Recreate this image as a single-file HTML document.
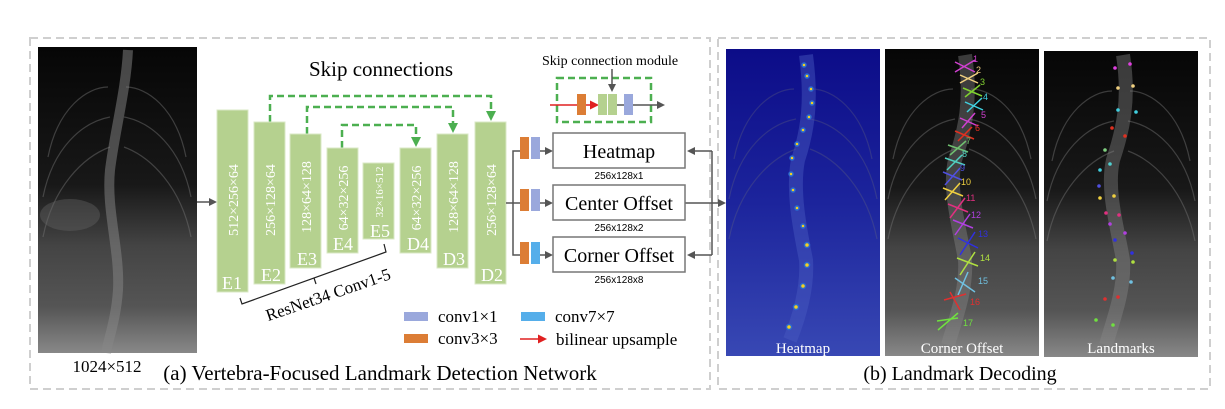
<!DOCTYPE html>
<html><head><meta charset="utf-8"><style>
html,body{margin:0;padding:0;background:#fff;}
svg{display:block;font-family:"Liberation Serif",serif;}
</style></head><body>
<svg width="1225" height="409" viewBox="0 0 1225 409" xmlns="http://www.w3.org/2000/svg">
<defs>
<marker id="ag" markerWidth="8" markerHeight="8" refX="6" refY="4" orient="auto" markerUnits="userSpaceOnUse"><path d="M0,0 L8,4 L0,8 z" fill="#555"/></marker>
<marker id="agr" markerWidth="10" markerHeight="10" refX="7" refY="5" orient="auto" markerUnits="userSpaceOnUse"><path d="M0,0 L10,5 L0,10 z" fill="#4caf50"/></marker>
<marker id="ar" markerWidth="9" markerHeight="9" refX="6" refY="4.5" orient="auto" markerUnits="userSpaceOnUse"><path d="M0,0 L9,4.5 L0,9 z" fill="#e02020"/></marker>
<linearGradient id="xr" x1="0" y1="0" x2="0" y2="1">
<stop offset="0" stop-color="#060606"/><stop offset="0.45" stop-color="#181818"/><stop offset="0.65" stop-color="#444"/><stop offset="0.85" stop-color="#555"/><stop offset="1" stop-color="#888"/></linearGradient>
<linearGradient id="hm" x1="0" y1="0" x2="0" y2="1">
<stop offset="0" stop-color="#0c0c88"/><stop offset="0.5" stop-color="#1c249c"/><stop offset="1" stop-color="#3848b4"/></linearGradient>
<g id="ribs" fill="none" stroke="#777" stroke-width="1.2" opacity="0.45">
<path d="M10,110 C20,60 50,40 70,40"/><path d="M148,110 C138,60 108,40 88,40"/>
<path d="M5,150 C15,100 45,75 72,70"/><path d="M153,150 C143,100 113,75 86,70"/>
<path d="M5,190 C15,140 45,110 72,100"/><path d="M153,190 C143,140 113,110 86,100"/>
</g>
</defs>

<rect x="30" y="38" width="680" height="351" fill="none" stroke="#cfcfcf" stroke-width="2" stroke-dasharray="8,5"/>
<rect x="718" y="38" width="492" height="351" fill="none" stroke="#cfcfcf" stroke-width="2" stroke-dasharray="8,5"/>

<!-- input xray -->
<rect x="38" y="47" width="159" height="306" fill="url(#xr)"/>
<use href="#ribs" x="38" y="47"/>
<path d="M128,50 C126,90 115,130 110,170 C106,210 120,250 118,290 C116,320 108,340 106,353" stroke="#888" stroke-width="10" fill="none" opacity="0.5"/>
<ellipse cx="70" cy="215" rx="30" ry="16" fill="#666" opacity="0.4"/>
<text x="107" y="372" font-size="17" text-anchor="middle">1024×512</text>
<line x1="197" y1="202" x2="215" y2="202" stroke="#555" stroke-width="1.5" marker-end="url(#ag)"/>

<text x="381" y="76" font-size="21" text-anchor="middle">Skip connections</text>

<g stroke="#4caf50" stroke-width="2.5" fill="none" stroke-dasharray="7,4">
<path d="M270,122 V96 H491 V118" marker-end="url(#agr)"/>
<path d="M307,134 V107 H453 V130" marker-end="url(#agr)"/>
<path d="M342,148 V125 H416 V144" marker-end="url(#agr)"/>
</g>

<g fill="#b5d18f" stroke="#d9e8c4" stroke-width="1">
<rect x="217" y="110" width="31" height="182"/>
<rect x="254" y="122" width="31" height="162"/>
<rect x="290" y="134" width="31" height="134"/>
<rect x="327" y="148" width="31" height="105"/>
<rect x="363" y="163" width="31" height="76"/>
<rect x="400" y="148" width="31" height="105"/>
<rect x="437" y="134" width="31" height="134"/>
<rect x="475" y="122" width="31" height="162"/>
</g>
<g fill="#fff" font-size="14">
<text transform="translate(238,200) rotate(-90)" text-anchor="middle">512×256×64</text>
<text transform="translate(275,200) rotate(-90)" text-anchor="middle">256×128×64</text>
<text transform="translate(311,197) rotate(-90)" text-anchor="middle">128×64×128</text>
<text transform="translate(348,198) rotate(-90)" text-anchor="middle">64×32×256</text>
<text transform="translate(383,192) rotate(-90)" text-anchor="middle" font-size="11">32×16×512</text>
<text transform="translate(421,198) rotate(-90)" text-anchor="middle">64×32×256</text>
<text transform="translate(458,197) rotate(-90)" text-anchor="middle">128×64×128</text>
<text transform="translate(496,200) rotate(-90)" text-anchor="middle">256×128×64</text>
<g font-size="18" text-anchor="middle">
<text x="232" y="289">E1</text><text x="271" y="281">E2</text><text x="307" y="265">E3</text>
<text x="343" y="250">E4</text><text x="380" y="237">E5</text><text x="418" y="250">D4</text>
<text x="454" y="265">D3</text><text x="492" y="281">D2</text></g>
</g>

<path d="M240,298 L242,304 L386,252 L384,244" stroke="#222" stroke-width="1.2" fill="none"/>
<line x1="314" y1="278" x2="316" y2="284" stroke="#222" stroke-width="1.2"/>
<text transform="translate(330,300) rotate(-19)" font-size="17" text-anchor="middle">ResNet34 Conv1-5</text>

<g stroke="#555" stroke-width="1.5" fill="none">
<line x1="506" y1="203" x2="513" y2="203"/>
<path d="M520,151 H513 V255 H520"/>
<line x1="513" y1="203" x2="520" y2="203"/>
<line x1="540" y1="151" x2="551" y2="151" marker-end="url(#ag)"/>
<line x1="540" y1="203" x2="551" y2="203" marker-end="url(#ag)"/>
<line x1="540" y1="255" x2="551" y2="255" marker-end="url(#ag)"/>
<path d="M712,151 V255"/>
<line x1="712" y1="151" x2="689" y2="151" marker-end="url(#ag)"/>
<line x1="712" y1="255" x2="689" y2="255" marker-end="url(#ag)"/>
<line x1="685" y1="203" x2="724" y2="203" marker-end="url(#ag)"/>
</g>
<g>
<rect x="520" y="137" width="9" height="22" fill="#dc7d35"/><rect x="531" y="137" width="9" height="22" fill="#9aa8dc"/>
<rect x="520" y="189" width="9" height="22" fill="#dc7d35"/><rect x="531" y="189" width="9" height="22" fill="#9aa8dc"/>
<rect x="520" y="242" width="9" height="22" fill="#dc7d35"/><rect x="531" y="242" width="9" height="22" fill="#55aeea"/>
</g>
<g fill="#fff" stroke="#777" stroke-width="1.5">
<rect x="553" y="133" width="132" height="35"/>
<rect x="553" y="185" width="132" height="35"/>
<rect x="553" y="237" width="132" height="35"/>
</g>
<g font-size="20" text-anchor="middle">
<text x="619" y="158">Heatmap</text>
<text x="619" y="210">Center Offset</text>
<text x="619" y="262">Corner Offset</text>
</g>
<g font-family="Liberation Sans,sans-serif" font-size="10" text-anchor="middle">
<text x="619" y="179">256x128x1</text>
<text x="619" y="231">256x128x2</text>
<text x="619" y="283">256x128x8</text>
</g>

<text x="610" y="65" font-size="14" text-anchor="middle">Skip connection module</text>
<rect x="557" y="78" width="94" height="44" fill="none" stroke="#4caf50" stroke-width="2.5" stroke-dasharray="7,4"/>
<line x1="612" y1="69" x2="612" y2="90" stroke="#555" stroke-width="1.5" marker-end="url(#ag)"/>
<line x1="550" y1="105" x2="596" y2="105" stroke="#e02020" stroke-width="1.5" marker-end="url(#ar)"/>
<rect x="577" y="94" width="9" height="21" fill="#dc7d35"/>
<rect x="598" y="94" width="9" height="21" fill="#b5d18f"/><rect x="608" y="94" width="9" height="21" fill="#b5d18f"/>
<line x1="617" y1="105" x2="663" y2="105" stroke="#555" stroke-width="1.5" marker-end="url(#ag)"/>
<rect x="624" y="94" width="9" height="21" fill="#9aa8dc"/>

<rect x="404" y="312" width="24" height="9" fill="#9aa8dc"/>
<text x="438" y="322" font-size="17">conv1×1</text>
<rect x="521" y="312" width="24" height="9" fill="#55aeea"/>
<text x="555" y="322" font-size="17">conv7×7</text>
<rect x="404" y="334" width="24" height="9" fill="#dc7d35"/>
<text x="438" y="344" font-size="17">conv3×3</text>
<line x1="520" y1="339" x2="544" y2="339" stroke="#e02020" stroke-width="1.5" marker-end="url(#ar)"/>
<text x="556" y="345" font-size="17">bilinear upsample</text>

<text x="380" y="380" font-size="21" text-anchor="middle">(a) Vertebra-Focused Landmark Detection Network</text>

<!-- heatmap panel -->
<rect x="726" y="49" width="154" height="307" fill="url(#hm)"/>
<use href="#ribs" x="724" y="49" opacity="0.6"/>
<path d="M806,55 C812,100 808,130 798,160 C792,190 800,230 806,260 C808,290 798,320 790,340" stroke="#4a5ac0" stroke-width="14" fill="none" opacity="0.45"/>
<g fill="#f5d020" stroke="#2a6ad0" stroke-width="1.5">
<circle cx="804" cy="65" r="2"/><circle cx="807" cy="76" r="2"/><circle cx="811" cy="89" r="2"/><circle cx="812" cy="103" r="2"/>
<circle cx="809" cy="117" r="2"/><circle cx="803" cy="130" r="2"/><circle cx="797" cy="144" r="2"/><circle cx="792" cy="158" r="2"/>
<circle cx="791" cy="174" r="2"/><circle cx="793" cy="190" r="2"/><circle cx="797" cy="208" r="2"/><circle cx="803" cy="226" r="2"/>
<circle cx="807" cy="245" r="2.5"/><circle cx="807" cy="265" r="2.5"/><circle cx="803" cy="286" r="2.5"/><circle cx="796" cy="307" r="2.5"/><circle cx="789" cy="327" r="2.5"/>
</g>
<text x="803" y="353" font-size="15" fill="#fff" text-anchor="middle">Heatmap</text>

<!-- corner offset panel -->
<rect x="885" y="49" width="154" height="307" fill="url(#xr)"/>
<use href="#ribs" x="883" y="49"/>
<path d="M965,55 C972,100 965,130 955,160 C948,190 960,230 965,260 C967,290 955,320 948,345" stroke="#8a8a8a" stroke-width="14" fill="none" opacity="0.4"/>
<g stroke-width="1.5" fill="none">
<path d="M955,62 L975,72 M955,72 L975,60" stroke="#d040d0"/><path d="M960,75 L978,83 M960,83 L978,73" stroke="#f0d080"/>
<path d="M963,88 L982,96 M965,97 L980,85" stroke="#80d030"/><path d="M965,102 L983,110 M967,112 L982,98" stroke="#40d0e0"/>
<path d="M960,118 L978,126 M962,128 L975,113" stroke="#d040d0"/><path d="M955,131 L974,139 M958,141 L972,127" stroke="#e03020"/>
<path d="M948,145 L968,152 M950,155 L966,141" stroke="#70c070"/><path d="M945,158 L965,165 M947,170 L962,155" stroke="#50d0c0"/>
<path d="M943,172 L962,180 M945,185 L960,168" stroke="#5050e0"/><path d="M943,188 L963,196 M945,200 L960,183" stroke="#f0d040"/>
<path d="M948,204 L968,212 M950,218 L965,198" stroke="#e03080"/><path d="M953,220 L973,228 M955,235 L970,214" stroke="#b040e0"/>
<path d="M958,238 L978,248 M960,255 L975,232" stroke="#3030e0"/><path d="M957,258 L978,266 M960,275 L975,252" stroke="#b0e040"/>
<path d="M955,278 L975,292 M958,295 L968,272" stroke="#70c0e0"/><path d="M944,300 L966,294 M950,292 L960,310" stroke="#e03030"/>
<path d="M937,321 L958,318 M938,330 L958,313" stroke="#70e040"/>
</g>
<g font-family="Liberation Sans,sans-serif" font-size="9">
<text x="973" y="62" fill="#d040d0">1</text><text x="976" y="73" fill="#f0d080">2</text><text x="980" y="85" fill="#80d030">3</text>
<text x="983" y="100" fill="#40d0e0">4</text><text x="981" y="118" fill="#d040d0">5</text><text x="975" y="131" fill="#e03020">6</text>
<text x="966" y="144" fill="#70c070">7</text><text x="962" y="157" fill="#50d0c0">8</text><text x="960" y="171" fill="#5050e0">9</text>
<text x="961" y="185" fill="#f0d040">10</text><text x="966" y="201" fill="#e03080">11</text><text x="971" y="218" fill="#b040e0">12</text>
<text x="978" y="237" fill="#3030e0">13</text><text x="980" y="261" fill="#b0e040">14</text><text x="978" y="284" fill="#70c0e0">15</text>
<text x="970" y="305" fill="#e03030">16</text><text x="963" y="326" fill="#70e040">17</text>
</g>
<text x="962" y="353" font-size="15" fill="#fff" text-anchor="middle">Corner Offset</text>

<!-- landmarks panel -->
<rect x="1044" y="51" width="154" height="306" fill="url(#xr)"/>
<use href="#ribs" x="1042" y="51"/>
<path d="M1123,55 C1130,100 1123,130 1113,160 C1106,190 1118,230 1123,260 C1125,290 1113,320 1106,345" stroke="#8a8a8a" stroke-width="14" fill="none" opacity="0.4"/>
<g>
<circle cx="1115" cy="68" r="1.8" fill="#e040e0"/><circle cx="1130" cy="64" r="1.8" fill="#e040e0"/>
<circle cx="1118" cy="88" r="1.8" fill="#f0d080"/><circle cx="1133" cy="86" r="1.8" fill="#f0d080"/>
<circle cx="1118" cy="110" r="1.8" fill="#40d0e0"/><circle cx="1136" cy="112" r="1.8" fill="#40d0e0"/>
<circle cx="1112" cy="128" r="1.8" fill="#e03020"/><circle cx="1125" cy="136" r="1.8" fill="#e03020"/>
<circle cx="1105" cy="150" r="1.8" fill="#80d080"/><circle cx="1110" cy="164" r="1.8" fill="#50d0d0"/>
<circle cx="1100" cy="170" r="1.8" fill="#40d0e0"/><circle cx="1099" cy="186" r="1.8" fill="#5050e0"/>
<circle cx="1100" cy="198" r="1.8" fill="#f0d040"/><circle cx="1114" cy="196" r="1.8" fill="#f0d040"/>
<circle cx="1106" cy="213" r="1.8" fill="#e03080"/><circle cx="1119" cy="215" r="1.8" fill="#e03080"/>
<circle cx="1110" cy="224" r="1.8" fill="#b040e0"/><circle cx="1125" cy="233" r="1.8" fill="#b040e0"/>
<circle cx="1115" cy="240" r="1.8" fill="#3030e0"/><circle cx="1132" cy="253" r="1.8" fill="#3030e0"/>
<circle cx="1115" cy="260" r="1.8" fill="#b0e040"/><circle cx="1133" cy="262" r="1.8" fill="#b0e040"/>
<circle cx="1113" cy="278" r="1.8" fill="#70c0e0"/><circle cx="1131" cy="282" r="1.8" fill="#70c0e0"/>
<circle cx="1105" cy="299" r="1.8" fill="#e03030"/><circle cx="1118" cy="297" r="1.8" fill="#e03030"/>
<circle cx="1096" cy="320" r="1.8" fill="#70e040"/><circle cx="1113" cy="325" r="1.8" fill="#70e040"/>
</g>
<text x="1121" y="353" font-size="15" fill="#fff" text-anchor="middle">Landmarks</text>

<text x="960" y="380" font-size="20" text-anchor="middle">(b) Landmark Decoding</text>
</svg>
</body></html>
